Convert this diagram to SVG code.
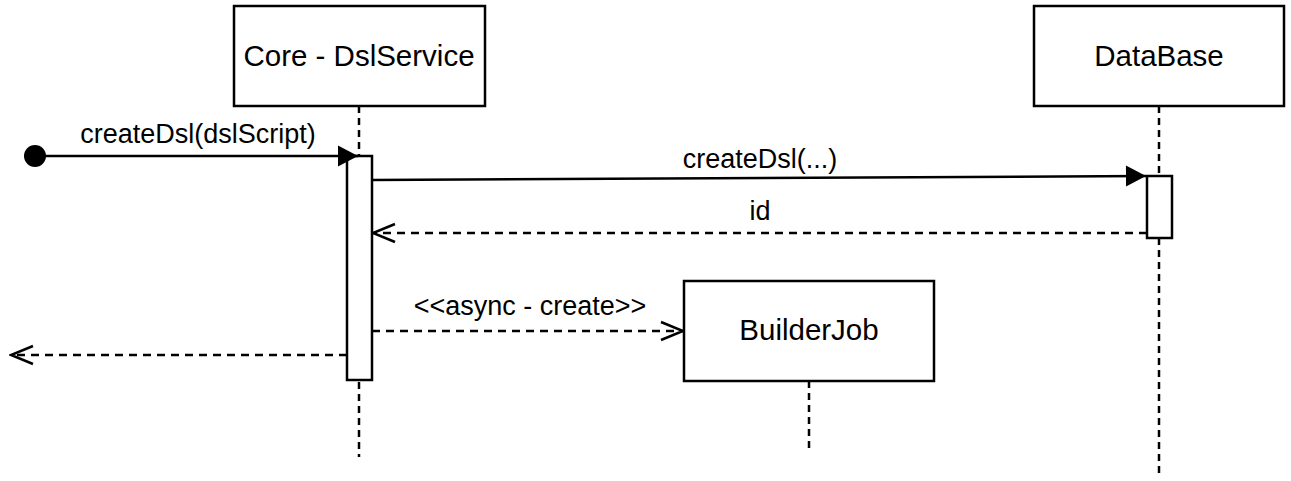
<svg xmlns="http://www.w3.org/2000/svg" width="1291" height="481" viewBox="0 0 1291 481">
<style>
.box{fill:#fff;stroke:#000;stroke-width:2.5}
.life{stroke:#000;stroke-width:2.5;stroke-dasharray:7 5;fill:none}
.msg{stroke:#000;stroke-width:2.5;fill:none}
.ret{stroke:#000;stroke-width:2.5;stroke-dasharray:8 6;fill:none}
.t{font-family:"Liberation Sans",Arial,sans-serif;fill:#000;text-anchor:middle}
.big{font-size:29.5px}
.lbl{font-size:27px}
</style>
<defs>
<marker id="fill" markerUnits="userSpaceOnUse" markerWidth="24" markerHeight="24" refX="21" refY="12" orient="auto">
<path d="M1,1.5 L21,12 L1,22.5 Z" fill="#000"/>
</marker>
<marker id="open" markerUnits="userSpaceOnUse" markerWidth="26" markerHeight="22" refX="24" refY="11" orient="auto">
<path d="M2,2 L24,11 L2,20" fill="none" stroke="#000" stroke-width="2.5"/>
</marker>
</defs>
<g id="lifelines">
<line class="life" x1="359" y1="106" x2="359" y2="457"/>
<line class="life" x1="1159" y1="106" x2="1159" y2="475"/>
<line class="life" x1="809" y1="381" x2="809" y2="449"/>
</g>
<g id="core">
<rect class="box" x="234" y="6" width="251" height="100"/>
<text class="t big" x="359" y="66">Core - DslService</text>
</g>
<g id="database">
<rect class="box" x="1034" y="6" width="250" height="100"/>
<text class="t big" x="1159" y="66">DataBase</text>
</g>
<g id="builderjob">
<rect class="box" x="684" y="281" width="250" height="100"/>
<text class="t big" x="809" y="340">BuilderJob</text>
</g>
<g id="core-activation">
<rect class="box" x="347" y="156" width="25" height="224"/>
</g>
<g id="db-activation">
<rect class="box" x="1147" y="176" width="25" height="62"/>
</g>
<g id="start">
<circle cx="35" cy="156" r="11" fill="#000"/>
</g>
<g id="connectors">
<line class="msg" x1="35" y1="156" x2="358" y2="156" marker-end="url(#fill)"/>
<text class="t lbl" x="198" y="143">createDsl(dslScript)</text>
<line class="msg" x1="372" y1="180" x2="1146" y2="176" marker-end="url(#fill)"/>
<text class="t lbl" x="760" y="168">createDsl(...)</text>
<line class="ret" x1="1147" y1="233" x2="373" y2="233" marker-end="url(#open)"/>
<text class="t lbl" x="760" y="220">id</text>
<line class="ret" x1="372" y1="331" x2="683" y2="331" marker-end="url(#open)"/>
<text class="t lbl" x="530" y="315">&lt;&lt;async - create&gt;&gt;</text>
<line class="ret" x1="347" y1="355" x2="11" y2="355" marker-end="url(#open)"/>
</g>
</svg>
